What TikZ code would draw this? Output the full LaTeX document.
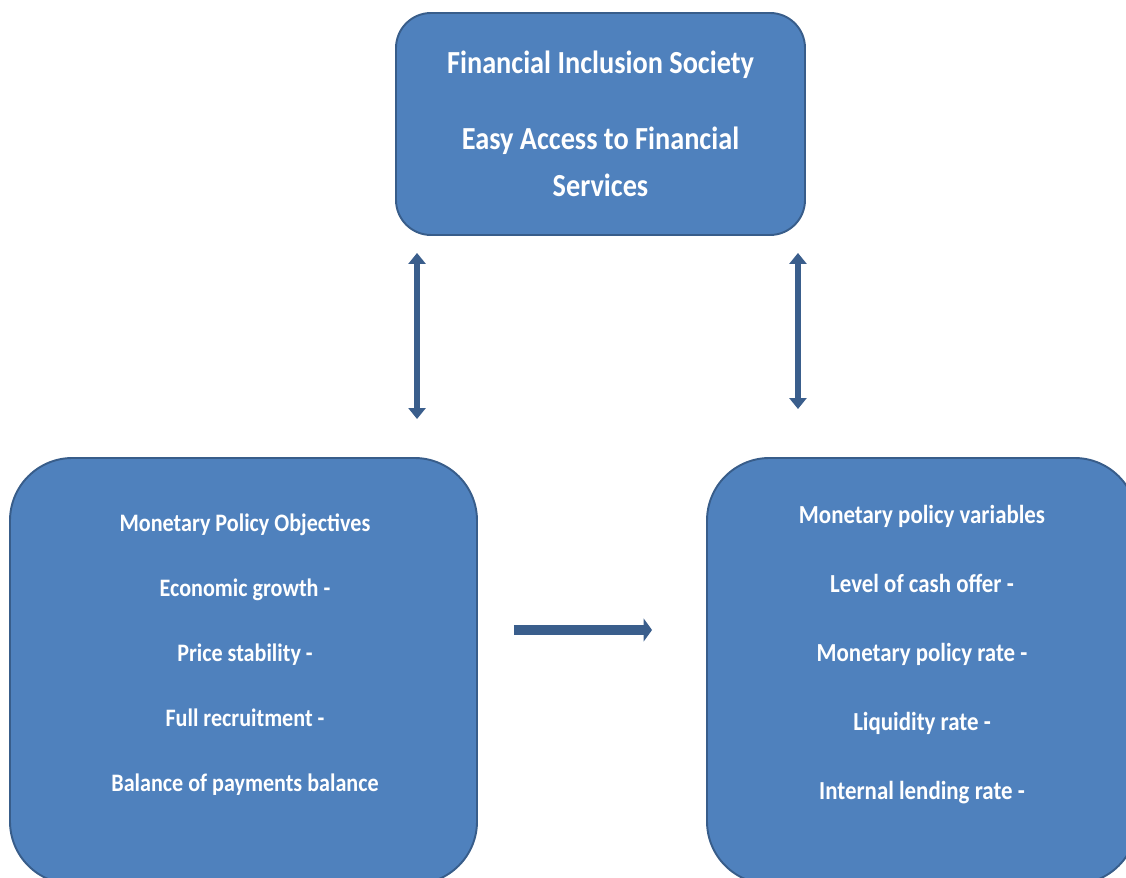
\documentclass[tikz,border=0pt]{standalone}
\usepackage{fontspec}
\setmainfont{Carlito}[FakeStretch=0.88]
\usetikzlibrary{arrows.meta}
\definecolor{boxblue}{HTML}{4F81BD}
\definecolor{edgeblue}{HTML}{385D8A}
\definecolor{arrowblue}{HTML}{3A5E8C}

\begin{document}
\begin{tikzpicture}[
      every node/.style={font=\bfseries, text=white},
      panel/.style={draw=edgeblue, fill=boxblue, line width=1.1pt, rounded corners=1.25cm},
      headbox/.style={panel, rounded corners=0.7cm, minimum width=8.18cm,
                      minimum height=4.44cm, align=center,
                      font=\fontsize{18.3}{26.7}\selectfont\bfseries},
      listtext/.style={align=center, inner sep=0pt},
      updown/.style={arrowblue, line width=2.9pt,
                     {Triangle[width=0.34cm, length=0.22cm]}-{Triangle[width=0.34cm, length=0.22cm]}},
      flow/.style={arrowblue, line width=6pt, -{Triangle[width=0.46cm, length=0.17cm]}},
    ]
    \clip (0,0) rectangle (22.52,17.56);

    \node[headbox] (fis) at (12.01, 15.08)
      {Financial Inclusion Society\\[16.5pt] Easy Access to Financial\\ Services};

    % lower panels run off the page edge
    \node[panel, minimum width=9.34cm, minimum height=8.52cm] (obj) at (4.87, 4.14) {};
    \node[panel, minimum width=8.6cm, minimum height=8.52cm]  (var) at (18.44, 4.14) {};

    \node[listtext, font=\fontsize{14.3}{37}\selectfont\bfseries] (objtxt) at (4.9, 4.47)
      {Monetary Policy Objectives\\ Economic growth -\\ Price stability -\\
       Full recruitment -\\ Balance of payments balance};
    \node[listtext, font=\fontsize{14.8}{39.3}\selectfont\bfseries] (vartxt) at (18.44, 4.47)
      {Monetary policy variables\\ Level of cash offer -\\ Monetary policy rate -\\
       Liquidity rate -\\ Internal lending rate -};

    \draw[updown, shorten <=0.34cm, shorten >=0.76cm]
      ([xshift=0.44cm]fis.south west) -- ([xshift=0.44cm]fis.south west |- obj.north);
    \draw[updown, shorten <=0.34cm, shorten >=0.96cm]
      ([xshift=-0.16cm]fis.south east) -- ([xshift=-0.16cm]fis.south east |- var.north);
    \draw[flow, shorten <=0.72cm, shorten >=1.08cm]
      ([yshift=0.82cm]obj.east) -- ([yshift=0.82cm]obj.east -| var.west);
  \end{tikzpicture}
\end{document}
